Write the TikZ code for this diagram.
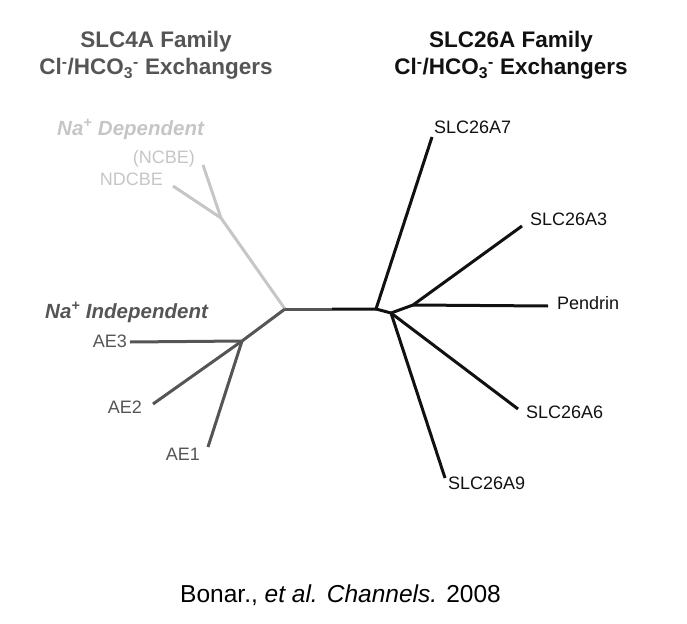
\documentclass[tikz,border=0pt]{standalone}
\usepackage{fontspec}
\setmainfont{Liberation Sans}
\usetikzlibrary{positioning}
\definecolor{slcBlack}{HTML}{111111}
\definecolor{slcDark}{HTML}{555555}
\definecolor{slcLight}{HTML}{C6C6C6}
\tikzset{
  branch/.style={line width=3pt, line join=round},
  leaf/.style={font=\fontsize{18}{21}\selectfont, inner sep=2pt},
  famtitle/.style={font=\fontsize{22.5}{26}\selectfont\bfseries, inner sep=0pt},
  group/.style={font=\fontsize{20.5}{24}\selectfont\bfseries\itshape, inner sep=2pt},
  cite/.style={font=\fontsize{24.5}{28}\selectfont, inner sep=0pt},
}
\newcommand{\clhco}{Cl\textsuperscript{-}/HCO\textsubscript{3}\textsuperscript{-} Exchangers}

\begin{document}
\begin{tikzpicture}[x=1pt,y=-1pt]
  \useasboundingbox (0,0) rectangle (687,623);
  % tree points
  \coordinate (lj) at (285,309);
  \coordinate (mid) at (332,309);
  \coordinate (rj) at (376,309);
  \coordinate (rk) at (391,313);
  \coordinate (rp) at (413,305);
  \coordinate (e7) at (432,137);
  \coordinate (e3) at (522,226);
  \coordinate (ePen) at (548,306);
  \coordinate (e6) at (518,409);
  \coordinate (e9) at (445,478);
  \coordinate (ndj) at (221,218);
  \coordinate (eNCBE) at (203,165);
  \coordinate (eNDCBE) at (173,186);
  \coordinate (aej) at (242,341);
  \coordinate (eAE3) at (130,342);
  \coordinate (eAE2) at (153,404);
  \coordinate (eAE1) at (208,447);

  % Na+ dependent branch
  \draw[branch,slcLight] (lj) -- (ndj) -- (eNCBE);
  \draw[branch,slcLight] (ndj) -- (eNDCBE);
  % Na+ independent branch
  \draw[branch,slcDark] (lj) -- (aej) -- (eAE3);
  \draw[branch,slcDark] (aej) -- (eAE2);
  \draw[branch,slcDark] (aej) -- (eAE1);
  \draw[branch,slcDark] (lj) -- (mid);
  % SLC26A
  \draw[branch,slcBlack] (mid) -- (rj) -- (e7);
  \draw[branch,slcBlack] (rj) -- (rk) -- (rp) -- (e3);
  \draw[branch,slcBlack] (rp) -- (ePen);
  \draw[branch,slcBlack] (rk) -- (e6);
  \draw[branch,slcBlack] (rk) -- (e9);

  \node[famtitle,text=slcDark,anchor=base] (t4a) at (156,48) {SLC4A Family};
  \node[famtitle,text=slcDark,anchor=base] (t4b) at (156,75) {\clhco};
  \node[famtitle,text=slcBlack,anchor=base] (t26a) at (511,48) {SLC26A Family};
  \node[famtitle,text=slcBlack,anchor=base] (t26b) at (511,75) {\clhco};

  \node[group,text=slcLight,anchor=base west] (gdep) at (55,135) {Na\textsuperscript{+} Dependent};
  \node[group,text=slcDark,anchor=base west] (gind) at (43,318) {Na\textsuperscript{+} Independent};

  \node[leaf,text=slcLight,anchor=base east] (lNCBE) at (197,163) {(NCBE)};
  \node[leaf,text=slcLight,anchor=base east] (lNDCBE) at (165,185) {NDCBE};
  \node[leaf,text=slcDark,anchor=base east] (lAE3) at (129,347.5) {AE3};
  \node[leaf,text=slcDark,anchor=base east] (lAE2) at (144,413.5) {AE2};
  \node[leaf,text=slcDark,anchor=base east] (lAE1) at (202,460.5) {AE1};

  \node[leaf,text=slcBlack,anchor=base west] (l7) at (432,133.5) {SLC26A7};
  \node[leaf,text=slcBlack,anchor=base west] (l3) at (528,225.5) {SLC26A3};
  \node[leaf,text=slcBlack,anchor=base west] (lPen) at (555,309.5) {Pendrin};
  \node[leaf,text=slcBlack,anchor=base west] (l6) at (524,418.5) {SLC26A6};
  \node[leaf,text=slcBlack,anchor=base west] (l9) at (446,489.5) {SLC26A9};

  \node[cite,anchor=base] (ref) at (340.5,602) {Bonar., \textit{et al. Channels.} 2008};
\end{tikzpicture}
\end{document}
